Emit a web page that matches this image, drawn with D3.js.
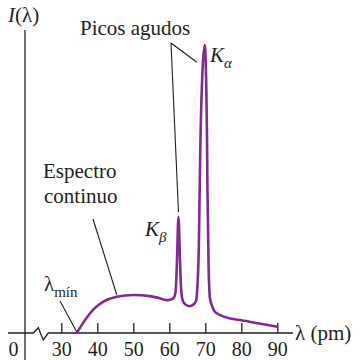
<!DOCTYPE html>
<html>
<head>
<meta charset="utf-8">
<script src="https://cdn.jsdelivr.net/npm/d3@7"></script>
<style>
body { margin: 0; background: #fff; }
</style>
</head>
<body>
<svg width="362" height="360"></svg>
<script>
// wavelength (pm) and intensity (arbitrary units, Ka peak = 100)
var lambda = [34.3, 35.5, 37, 39, 41.7, 45.4, 50, 54.6, 57, 59.3, 60.4, 61.3, 61.8, 62.1, 62.55, 63.0, 63.3, 63.8, 64.6, 65.7, 66.6, 67.4, 67.8, 68.2, 68.5, 68.7, 69.85, 70.45, 70.6, 70.9, 71.3, 71.8, 72.5, 74, 77, 80, 85, 90];
var intensity = [0, 2.4, 5.2, 8.3, 10.9, 12.6, 13.2, 12.8, 12.2, 11.4, 11.6, 12.3, 15, 24, 40.3, 24, 15, 11, 9.8, 9.3, 9.8, 11, 16, 30, 55, 70, 100, 70, 50, 24, 12, 9.7, 7.6, 6.3, 5.0, 4.4, 3.3, 2.2];
var tickValues = [0, 30, 40, 50, 60, 70, 80, 90];

var svg = d3.select("svg");
var purple = "#812b91";
var ink = "#231f20";
var serif = "'Liberation Serif', 'Times New Roman', Tinos, 'DejaVu Serif', serif";

// broken axis: 0 sits left of the break, 30..90 linear
var x = d3.scaleLinear().domain([0, 30, 90]).range([13, 61.3, 277.3]);
var y = d3.scaleLinear().domain([0, 100]).range([333, 45]);

var data = lambda.map(function(l, i) { return { l: l, v: intensity[i] }; });

// y axis line
svg.append("line")
  .attr("x1", 25).attr("x2", 25)
  .attr("y1", 30).attr("y2", 360)
  .attr("stroke", ink).attr("stroke-width", 1.3);

// x axis with break
svg.append("path")
  .attr("d", "M8," + y(0) + "H33.3L38.3,327.7L43.3,340L48.3," + y(0) + "H293")
  .attr("fill", "none")
  .attr("stroke", ink).attr("stroke-width", 1.3);

var xAxis = svg.append("g")
  .attr("transform", "translate(0," + y(0) + ")")
  .call(d3.axisBottom(x).tickValues(tickValues).tickSize(-10).tickPadding(9).tickFormat(d3.format("d")));
xAxis.attr("font-family", serif).attr("font-size", 20);
xAxis.select(".domain").remove();
xAxis.selectAll(".tick line").attr("stroke", ink).attr("stroke-width", 1.3)
  .filter(function(d) { return d === 0; }).remove();
xAxis.selectAll(".tick text").attr("fill", ink);

// spectrum
svg.append("path")
  .datum(data)
  .attr("fill", "none")
  .attr("stroke", purple)
  .attr("stroke-width", 2.6)
  .attr("stroke-linejoin", "round")
  .attr("d", d3.line()
    .x(function(d) { return x(d.l); })
    .y(function(d) { return y(d.v); })
    .curve(d3.curveMonotoneX));

// leader lines
function leader(x1, y1, x2, y2) {
  svg.append("line")
    .attr("x1", x1).attr("y1", y1).attr("x2", x2).attr("y2", y2)
    .attr("stroke", ink).attr("stroke-width", 1.1);
}
leader(171, 43, x(69.6) - 7, y(94));
leader(171, 43, x(62.55), y(40.3) - 5);
leader(93, 219, x(45.4), y(12.6) - 2);
leader(60, 301, x(34.3), y(0) - 1);

// labels
function label(tx, ty, parts) {
  var t = svg.append("text").attr("x", tx).attr("y", ty)
    .attr("font-family", serif).attr("font-size", 21).attr("fill", ink);
  parts.forEach(function(p) {
    var s = t.append("tspan").text(p.t);
    if (p.it) s.attr("font-style", "italic");
    if (p.sub) s.attr("font-size", 15).attr("dy", p.dy);
  });
  return t;
}
label(8, 22, [{ t: "I", it: true }, { t: "(λ)" }]);
label(80, 35, [{ t: "Picos agudos" }]);
label(210, 62, [{ t: "K", it: true }, { t: "α", it: true, sub: true, dy: 6 }]);
label(145, 236, [{ t: "K", it: true }, { t: "β", it: true, sub: true, dy: 6 }]);
label(43, 178, [{ t: "Espectro" }]);
label(44, 203, [{ t: "continuo" }]);
label(44, 291, [{ t: "λ" }, { t: "mín", sub: true, dy: 6 }]);
label(295, 340, [{ t: "λ (pm)" }]);
</script>
</body>
</html>
